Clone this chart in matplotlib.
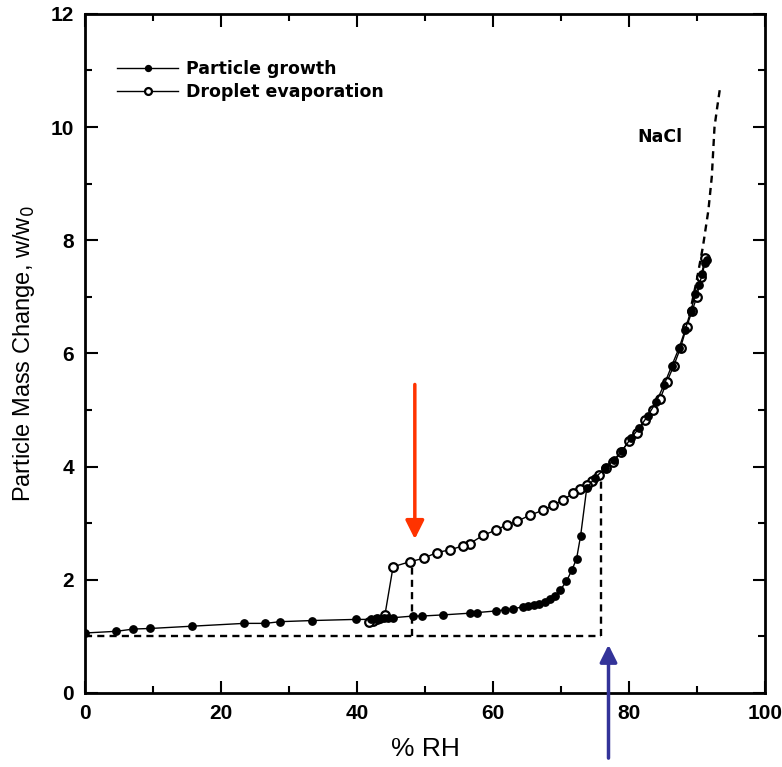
import matplotlib
matplotlib.use("Agg")
import matplotlib.pyplot as plt
from matplotlib.ticker import MultipleLocator

plt.rcParams['font.family'] = ['Liberation Sans', 'DejaVu Sans']

# particle growth (filled circles)
growth_rh = [0, 4.6, 7.1, 9.6, 15.7, 23.4, 26.5, 28.7, 33.4, 39.8, 42.0, 42.8, 43.4, 44.0,
             44.6, 45.3, 48.3, 49.6, 52.7, 56.6, 57.6, 60.5, 61.8, 63.0, 64.4, 65.2, 66.0,
             66.8, 67.6, 68.4, 69.2, 69.9, 70.8, 71.6, 72.3, 72.9, 73.8, 75.0, 76.5, 77.8,
             79.0, 80.3, 81.5, 82.8, 84.0, 85.2, 86.3, 87.4, 88.3, 89.1, 89.8, 90.3, 90.8,
             91.2, 91.5]
growth_w = [1.06, 1.09, 1.13, 1.14, 1.18, 1.23, 1.23, 1.26, 1.28, 1.30, 1.30, 1.31, 1.31, 1.32,
            1.33, 1.33, 1.36, 1.36, 1.38, 1.41, 1.42, 1.45, 1.47, 1.49, 1.52, 1.54, 1.56,
            1.58, 1.61, 1.66, 1.72, 1.82, 1.97, 2.17, 2.37, 2.78, 3.62, 3.80, 3.97, 4.12,
            4.28, 4.50, 4.68, 4.90, 5.14, 5.45, 5.78, 6.10, 6.42, 6.75, 7.05, 7.20, 7.40,
            7.60, 7.65]

# droplet evaporation (open circles)
evap_rh = [91.2, 90.6, 90.0, 89.3, 88.5, 87.6, 86.6, 85.6, 84.6, 83.5, 82.4, 81.2, 80.0,
           78.8, 77.7, 76.7, 75.6, 74.6, 73.8, 72.8, 71.8, 70.3, 68.9, 67.4, 65.4, 63.5,
           62.0, 60.5, 58.6, 56.6, 55.6, 53.7, 51.7, 49.8, 47.8, 45.3, 44.1, 43.0, 42.3, 41.7]
evap_w = [7.68, 7.35, 7.0, 6.75, 6.47, 6.1, 5.78, 5.5, 5.2, 5.0, 4.82, 4.6, 4.45,
          4.25, 4.08, 3.97, 3.85, 3.74, 3.67, 3.6, 3.53, 3.41, 3.32, 3.23, 3.14, 3.03,
          2.97, 2.88, 2.79, 2.64, 2.6, 2.53, 2.48, 2.38, 2.32, 2.23, 1.38, 1.30, 1.28, 1.26]

# NaCl theory (dashed)
nacl_rh = [88.5, 90.0, 90.9, 91.7, 92.2, 92.6, 93.0, 93.4]
nacl_w = [6.45, 7.3, 7.89, 8.53, 9.12, 10.0, 10.35, 10.68]

# guide lines: deliquescence / efflorescence
drh = 75.9
erh = 48.1

dash = (0, (3, 2.2))

fig = plt.figure(figsize=(7.82, 7.67), dpi=100)
ax = fig.add_axes([0.109, 0.0965, 0.869, 0.8855])

ax.plot([0, drh], [1.0, 1.0], ls=dash, color='black', lw=1.7)
ax.plot([drh, drh], [1.0, 3.82], ls=dash, color='black', lw=1.7)
ax.plot([erh, erh], [1.0, 2.32], ls=dash, color='black', lw=1.7)
ax.plot(nacl_rh, nacl_w, ls=dash, color='black', lw=1.7)

ax.plot(evap_rh, evap_w, '-o', color='black', lw=1.0, ms=6.2, mfc='white', mew=1.6,
        label='Droplet evaporation')
ax.plot(growth_rh, growth_w, '-o', color='black', lw=1.0, ms=5.3, mfc='black',
        label='Particle growth')

ax.text(84.5, 9.82, 'NaCl', fontsize=12.5, fontweight='bold', family='DejaVu Sans',
        ha='center', va='center')

# coloured arrows
ax.annotate('', xy=(48.5, 2.67), xytext=(48.5, 5.5),
            arrowprops=dict(arrowstyle='-|>', color='#ff3300', lw=2.5, mutation_scale=28))
ax.annotate('', xy=(77.0, 0.9), xytext=(77.0, -1.2), annotation_clip=False,
            arrowprops=dict(arrowstyle='-|>', color='#333399', lw=2.5, mutation_scale=26))

ax.set_xlim(0, 100)
ax.set_ylim(0, 12)
ax.xaxis.set_major_locator(MultipleLocator(20))
ax.xaxis.set_minor_locator(MultipleLocator(10))
ax.yaxis.set_major_locator(MultipleLocator(2))
ax.yaxis.set_minor_locator(MultipleLocator(1))
ax.tick_params(which='both', direction='in', top=True, right=True, width=1.5)
ax.tick_params(which='major', length=9, labelsize=15, pad=8)
ax.tick_params(which='minor', length=5)
for lab in ax.get_xticklabels() + ax.get_yticklabels():
    lab.set_fontweight('bold')
for sp in ax.spines.values():
    sp.set_linewidth(2)

ax.set_xlabel('% RH', fontsize=19, labelpad=10)
ax.set_ylabel('Particle Mass Change, w/w$_0$', fontsize=17, labelpad=10)

handles, labels = ax.get_legend_handles_labels()
leg = ax.legend(handles[::-1], labels[::-1], loc='upper left', bbox_to_anchor=(0.047, 0.932),
                frameon=False, prop=dict(family='DejaVu Sans', weight='bold', size=12.5),
                handlelength=3.5, handletextpad=0.45, labelspacing=0.3,
                borderpad=0, borderaxespad=0, markerscale=0.8)

fig.savefig('out.png', dpi=100)
